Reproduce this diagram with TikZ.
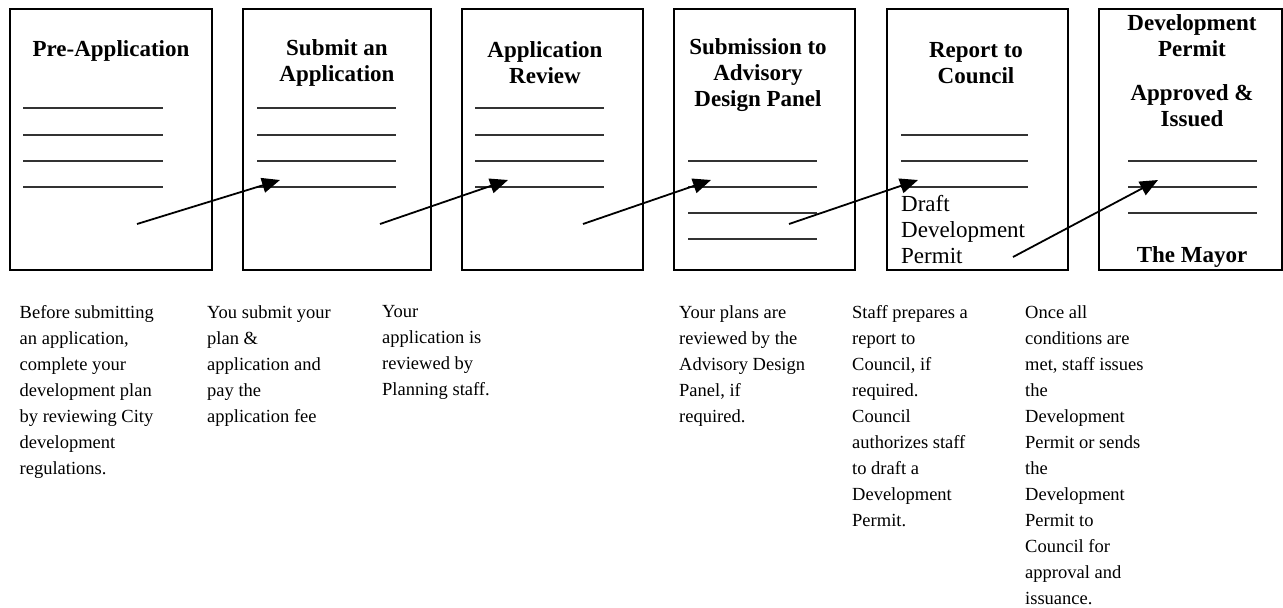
\documentclass[tikz,border=0pt]{standalone}
\usepackage{fontspec}
\setmainfont{Liberation Serif}
\usetikzlibrary{positioning, arrows.meta}
\tikzstyle{page} = [draw, line width=2.2pt, outer sep=0pt, inner sep=0pt, minimum width=181pt, minimum height=261pt]
\tikzstyle{head} = [font=\bfseries\fontsize{23}{26}\selectfont, align=center, inner sep=0pt]
\tikzstyle{body} = [font=\fontsize{23}{26}\selectfont, align=left, inner sep=0pt]
\tikzstyle{note} = [font=\fontsize{18.5}{26}\selectfont, align=left, inner sep=0pt, anchor=north west]
\tikzstyle{blank} = [line width=1.3pt, black!80]
\tikzstyle{flow} = [line width=1.8pt, -{Triangle[length=18pt, width=15pt]}]

\begin{document}
\begin{tikzpicture}[x=1pt, y=-1pt, node distance=31pt]
    \useasboundingbox (0,0) rectangle (1283,608);

    % the six pages
    \node[page, minimum width=202pt] (pre) at (111,139.5) {};
    \node[page, minimum width=188pt, right=of pre] (submit) {};
    \node[page, right=of submit] (review) {};
    \node[page, right=of review] (panel) {};
    \node[page, right=32pt of panel] (council) {};
    \node[page, minimum width=183pt, right=of council] (permit) {};

    % headings on the pages
    \node[head] (preT) at (111,51) {Pre-Application};
    \node[head] (submitT) at (337,62.5) {Submit an\\Application};
    \node[head] (reviewT) at (545,62.5) {Application\\Review};
    \node[head] (panelT) at (758,75.5) {Submission to\\Advisory\\Design Panel};
    \node[head] (councilT) at (976,63.5) {Report to\\Council};
    \node[head] (permitT) at (1192,36) {Development\\Permit};
    \node[head] (issuedT) at (1192,106) {Approved \&\\Issued};
    \node[head] (mayorT) at (1192,256.5) {The Mayor};
    \node[body, anchor=west] (draftT) at (901,230) {Draft\\Development\\Permit};

    % blank lines
    \foreach \y in {108,135,161,187} {
        \draw[blank] (23,\y) -- (163,\y);
        \draw[blank] (257,\y) -- (396,\y);
        \draw[blank] (475,\y) -- (604,\y);
    }
    \foreach \y in {161,187,213,239} \draw[blank] (688,\y) -- (817,\y);
    \foreach \y in {135,161,187} \draw[blank] (901,\y) -- (1028,\y);
    \foreach \y in {161,187,213} \draw[blank] (1128,\y) -- (1257,\y);

    % arrows from page to page
    \coordinate (a1) at (137,224);
    \coordinate (b1) at (280,180);
    \coordinate (a2) at (380,224);
    \coordinate (b2) at (508,180);
    \coordinate (a3) at (583,224);
    \coordinate (b3) at (711,180);
    \coordinate (a4) at (789,224);
    \coordinate (b4) at (918,180);
    \coordinate (a5) at (1013,257);
    \coordinate (b5) at (1158,180);
    \draw[flow] (a1) -- (b1);
    \draw[flow] (a2) -- (b2);
    \draw[flow] (a3) -- (b3);
    \draw[flow] (a4) -- (b4);
    \draw[flow] (a5) -- (b5);

    % notes under the pages
    \node[note] (preN) at (19.5,305) {Before submitting\\an application,\\complete your\\development plan\\by reviewing City\\development\\regulations.};
    \node[note] (submitN) at (207,305) {You submit your\\plan \&\\application and\\pay the\\application fee};
    \node[note] (reviewN) at (382,305) {Your\\application is\\reviewed by\\Planning staff.};
    \node[note] (panelN) at (679,305) {Your plans are\\reviewed by the\\Advisory Design\\Panel, if\\required.};
    \node[note] (councilN) at (852,305) {Staff prepares a\\report to\\Council, if\\required.\\Council\\authorizes staff\\to draft a\\Development\\Permit.};
    \node[note] (permitN) at (1025,305) {Once all\\conditions are\\met, staff issues\\the\\Development\\Permit or sends\\the\\Development\\Permit to\\Council for\\approval and\\issuance.};

\end{tikzpicture}
\end{document}
